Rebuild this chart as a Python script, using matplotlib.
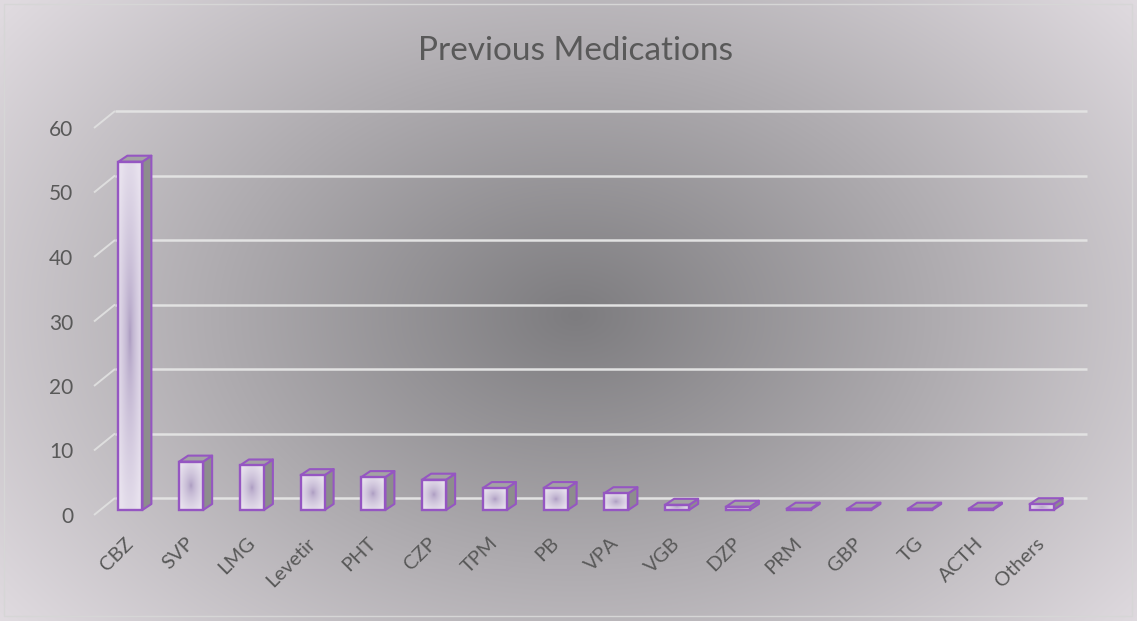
import numpy as np
import matplotlib
matplotlib.use("Agg")
import matplotlib.pyplot as plt
from matplotlib.patches import Polygon, Rectangle

drugs = ["CBZ", "SVP", "LMG", "Levetir", "PHT", "CZP", "TPM", "PB", "VPA",
         "VGB", "DZP", "PRM", "GBP", "TG", "ACTH", "Others"]
values = [54, 7.5, 6.9, 5.4, 5.1, 4.7, 3.4, 3.4, 2.6, 0.8, 0.5, 0.2, 0.2, 0.2, 0.2, 0.9]
yticks = [0, 10, 20, 30, 40, 50, 60]

W, H = 1137, 621
fig = plt.figure(figsize=(W / 100, H / 100), dpi=100)

# radial background
bg = fig.add_axes([0, 0, 1, 1], zorder=-10)
xx, yy = np.meshgrid(np.arange(W), np.arange(H))
r = np.sqrt(((xx - 575) / 600.0) ** 2 + ((yy - 315) / 420.0) ** 2)
t = np.clip(r / 1.19, 0, 1)[..., None]
c_mid = np.array([125, 124, 127]) / 255
c_edge = np.array([223, 218, 223]) / 255
bg.imshow(c_mid + (c_edge - c_mid) * t, aspect="auto", extent=(0, W, H, 0))
bg.set_xlim(0, W); bg.set_ylim(H, 0); bg.axis("off")
bg.add_patch(Rectangle((4, 4), W - 9, H - 9, fill=False, ec="#d6d6d6", lw=1))

# front plane of the plot
left, right, top, bottom = 94, 1066, 128, 515
ax = fig.add_axes([left / W, 1 - bottom / H, (right - left) / W, (bottom - top) / H])
ax.patch.set_alpha(0)
for s in ax.spines.values():
    s.set_visible(False)

px_x = (right - left) / len(drugs)   # pixels per category
px_y = (bottom - top) / 60.0         # pixels per unit

# back wall gridlines with little diagonals at the left
back_dx, back_dy = 21 / px_x, 17 / px_y
for v in yticks:
    ax.plot([-0.5, -0.5 + back_dx], [v, v + back_dy], color="#dedede", lw=1.4,
            zorder=1, clip_on=False, solid_capstyle="butt")
    ax.plot([-0.5 + back_dx, 15.5 + back_dx], [v + back_dy] * 2, color="#e2e2e2", lw=1.8,
            zorder=1, clip_on=False, solid_capstyle="butt")

# bars
x = np.arange(len(drugs))
bar_dx, bar_dy = 6 / px_x, 5 / px_y
dep_x, dep_y = 9 / px_x, 6 / px_y
bw = 24 / px_x
purple = "#9556c2"
bars = ax.bar(x + bar_dx, values, bw, bottom=bar_dy, color="#e6e0ec", edgecolor="none", zorder=3)

u, w = np.meshgrid(np.linspace(-1, 1, 60), np.linspace(-1, 1, 60))
g = np.clip(np.sqrt(u ** 2 + w ** 2) / 1.2, 0, 1) ** 0.55
f_mid = np.array([165, 148, 188]) / 255
f_edge = np.array([232, 226, 238]) / 255
face = f_mid + (f_edge - f_mid) * g[..., None]

for b in bars:
    x0, y0 = b.get_x(), b.get_y()
    x1, y1 = x0 + b.get_width(), y0 + b.get_height()
    side = Polygon([(x1, y0), (x1 + dep_x, y0 + dep_y), (x1 + dep_x, y1 + dep_y), (x1, y1)],
                   closed=True, fc="#8d8d8d", ec=purple, lw=1.5, zorder=2.5, joinstyle="round")
    topf = Polygon([(x0, y1), (x0 + dep_x, y1 + dep_y), (x1 + dep_x, y1 + dep_y), (x1, y1)],
                   closed=True, fc="#a3a3a3", ec=purple, lw=1.5, zorder=2.6, joinstyle="round")
    ax.add_patch(side)
    ax.add_patch(topf)
    im = ax.imshow(face, extent=(x0, x1, y0, y1), aspect="auto", zorder=3.5, interpolation="bilinear")
    im.set_clip_path(b)

ax.bar(x + bar_dx, values, bw, bottom=bar_dy, fill=False, edgecolor=purple, lw=1.7, zorder=4)

ax.set_xlim(-0.5, len(drugs) - 0.5)
ax.set_ylim(0, 60)
ax.set_yticks(yticks)
ax.set_yticklabels([str(v) for v in yticks], fontsize=15, color="#595959", family="Lato")
ax.set_xticks(x)
ax.set_xticklabels(drugs, rotation=45, ha="right", va="top", rotation_mode="anchor",
                   fontsize=14.5, color="#595959", family="Lato")
ax.tick_params(axis="y", length=0, pad=15)
ax.tick_params(axis="x", length=0, pad=14)

fig.text(575 / W, 1 - 51 / H, "Previous Medications", ha="center", va="center",
         fontsize=24, color="#595959", family="Lato")

fig.savefig("out.png", dpi=100)
